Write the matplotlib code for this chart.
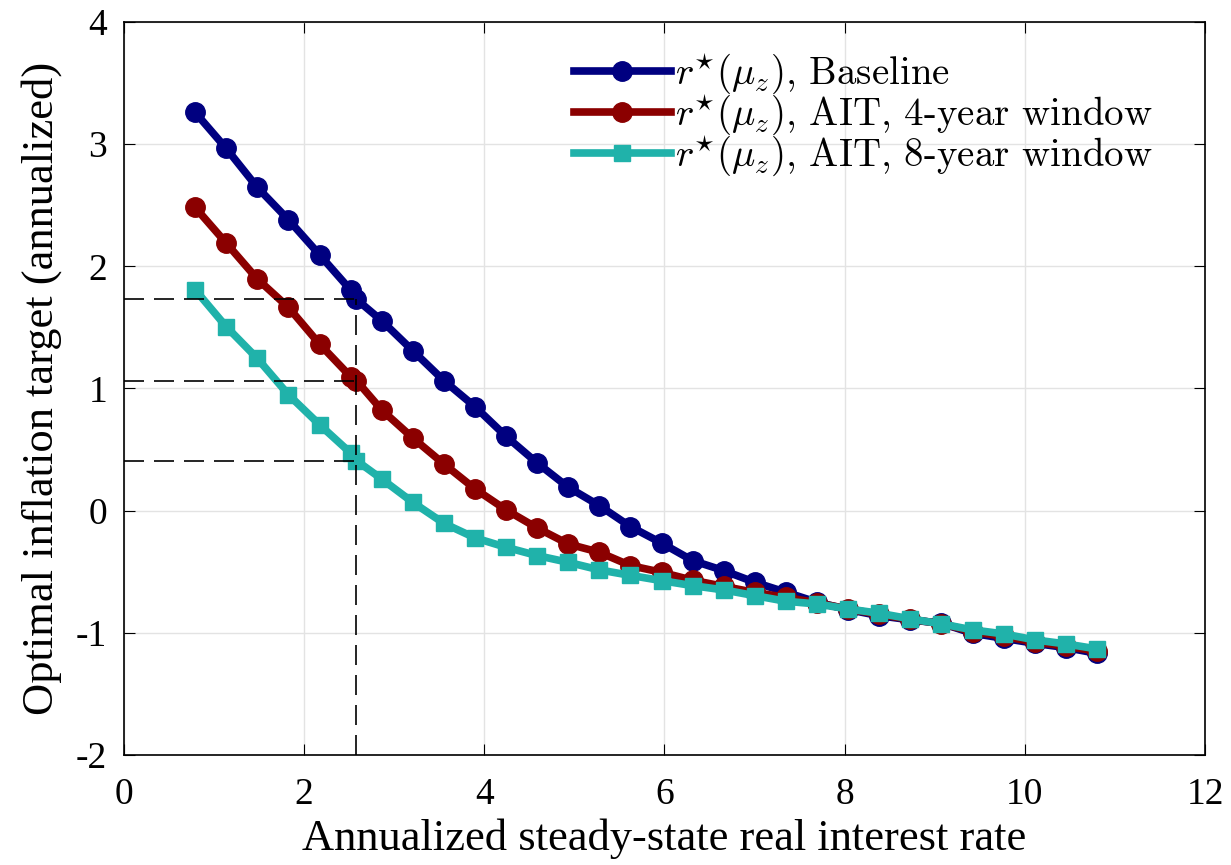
import matplotlib
matplotlib.use("Agg")
import matplotlib.pyplot as plt
import numpy as np

plt.rcParams['font.family'] = ['Liberation Serif', 'DejaVu Serif']
plt.rcParams['mathtext.fontset'] = 'cm'

# 横轴: 年化稳态实际利率 (30个网格点, 另加一个 r* 点)
r_grid = np.linspace(0.79, 10.8, 30)
r_star = 2.58
# 各情形的最优通胀目标 (网格点)
pi_baseline = [3.26, 2.965, 2.646, 2.381, 2.095, 1.806, 1.555, 1.309, 1.064, 0.851,
               0.608, 0.39, 0.191, 0.041, -0.131, -0.265, -0.409, -0.491, -0.587, -0.668,
               -0.75, -0.81, -0.86, -0.894, -0.922, -1.004, -1.045, -1.086, -1.121, -1.168]
pi_ait4 = [2.482, 2.19, 1.896, 1.664, 1.364, 1.097, 0.824, 0.595, 0.382, 0.178,
           0.006, -0.142, -0.273, -0.341, -0.45, -0.505, -0.57, -0.62, -0.67, -0.71,
           -0.755, -0.805, -0.85, -0.89, -0.925, -0.99, -1.03, -1.075, -1.11, -1.15]
pi_ait8 = [1.808, 1.506, 1.246, 0.949, 0.704, 0.472, 0.259, 0.068, -0.104, -0.223,
           -0.3, -0.368, -0.423, -0.485, -0.53, -0.573, -0.614, -0.649, -0.696, -0.742,
           -0.764, -0.805, -0.84, -0.886, -0.927, -0.976, -1.009, -1.058, -1.091, -1.132]
# r* 点处的取值
pi_star = {'baseline': 1.73, 'ait4': 1.065, 'ait8': 0.41}

labels = [r'$r^{\star}(\mu_z)$, Baseline',
          r'$r^{\star}(\mu_z)$, AIT, 4-year window',
          r'$r^{\star}(\mu_z)$, AIT, 8-year window']
xticks = [0, 2, 4, 6, 8, 10, 12]
yticks = [-2, -1, 0, 1, 2, 3, 4]
yticklabels = ['-2', '-1', '0', '1', '2', '3', '4']


def with_star(y, key):
    """在网格中插入 r* 点"""
    x = np.insert(r_grid, 6, r_star)
    y = np.insert(np.array(y), 6, pi_star[key])
    return x, y


fig = plt.figure(figsize=(12.31, 8.65), dpi=100)
ax = fig.add_axes([0.1007, 0.1272, 0.8782, 0.8474])

LW = 5.5
x, y = with_star(pi_baseline, 'baseline')
ax.plot(x, y, '-o', color='#000080', lw=LW, ms=14, label=labels[0], zorder=3)
x, y = with_star(pi_ait4, 'ait4')
ax.plot(x, y, '-o', color='#8B0000', lw=LW, ms=14, label=labels[1], zorder=4)
x, y = with_star(pi_ait8, 'ait8')
ax.plot(x, y, '-s', color='#20B2AA', lw=LW, ms=12, label=labels[2], zorder=5)

# 参考虚线
dash = (0, (12, 6))
for key in ['baseline', 'ait4', 'ait8']:
    ax.plot([0, r_star], [pi_star[key]] * 2, color='k', lw=1.2, ls=dash, zorder=6)
ax.plot([r_star, r_star], [-2, pi_star['baseline']], color='k', lw=1.2, ls=dash, zorder=6)

ax.set_xlim(0, 12)
ax.set_ylim(-2, 4)
ax.set_xticks(xticks)
ax.set_yticks(yticks)
ax.set_yticklabels(yticklabels)
ax.tick_params(direction='in', top=True, right=True, length=8, labelsize=27)
ax.tick_params(axis='x', pad=16)
ax.tick_params(axis='y', pad=12)
ax.grid(True, color='#e3e3e3', lw=1)
ax.set_axisbelow(True)
for s in ax.spines.values():
    s.set_linewidth(1.2)

ax.set_xlabel('Annualized steady-state real interest rate', fontsize=32, labelpad=5)
ax.set_ylabel('Optimal inflation target (annualized)', fontsize=32, labelpad=10)

ax.legend(loc='upper left', frameon=False, prop={'family': 'cmr10', 'size': 28},
          handlelength=2.5, handletextpad=0.1, labelspacing=-0.1,
          borderpad=0, borderaxespad=0, bbox_to_anchor=(0.416, 0.96))

fig.savefig('out.png', dpi=100)
